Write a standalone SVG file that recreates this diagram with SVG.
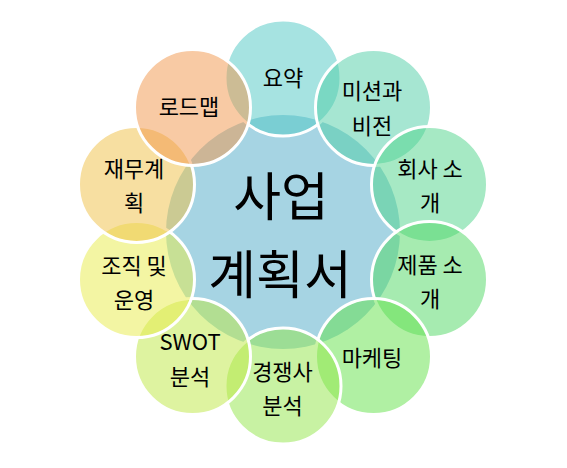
<svg xmlns="http://www.w3.org/2000/svg" width="567" height="468" viewBox="0 0 567 468">
<style>
.o{stroke:#ffffff;stroke-width:3;fill-opacity:0.5}
.t{font-family:"Noto Sans CJK KR","Noto Sans",sans-serif;font-size:22px;fill:#000;text-anchor:middle}
.c{font-family:"Noto Sans CJK KR","Noto Sans",sans-serif;font-size:52px;fill:#000;text-anchor:middle}
</style>
<rect width="567" height="468" fill="#ffffff"/>
<g id="center">
<circle cx="283" cy="232" r="117" fill="#a6d4e3"/>
<text class="c" x="281" y="216">사업</text>
<text class="c" x="280" y="294">계획서</text>
</g>
<g id="n1"><circle class="o" cx="283" cy="78" r="58" fill="#4dc7c3"/><text class="t" x="283" y="86">요약</text></g>
<g id="n2"><circle class="o" cx="373.5" cy="107.4" r="58" fill="#4dcda5"/><text class="t" x="372" y="99">미션과</text><text class="t" x="372" y="134">비전</text></g>
<g id="n3"><circle class="o" cx="429.5" cy="184.4" r="58" fill="#4dd389"/><text class="t" x="430" y="177">회사 소</text><text class="t" x="430" y="211">개</text></g>
<g id="n4"><circle class="o" cx="429.5" cy="279.6" r="58" fill="#4dd761"/><text class="t" x="430" y="273">제품 소</text><text class="t" x="430" y="307">개</text></g>
<g id="n5"><circle class="o" cx="373.5" cy="356.6" r="58" fill="#61e147"/><text class="t" x="372" y="366">마케팅</text></g>
<g id="n6"><circle class="o" cx="283" cy="386" r="58" fill="#91e547"/><text class="t" x="282.5" y="380">경쟁사</text><text class="t" x="282.5" y="414">분석</text></g>
<g id="n7"><circle class="o" cx="192.5" cy="356.6" r="58" fill="#bde741"/><text class="t" x="190" y="350">SWOT</text><text class="t" x="190" y="385">분석</text></g>
<g id="n8"><circle class="o" cx="136.5" cy="279.6" r="58" fill="#e7eb47"/><text class="t" x="134" y="274">조직 및</text><text class="t" x="134" y="308">운영</text></g>
<g id="n9"><circle class="o" cx="136.5" cy="184.4" r="58" fill="#efbf43"/><text class="t" x="134" y="177">재무계</text><text class="t" x="134" y="211">획</text></g>
<g id="n10"><circle class="o" cx="192.5" cy="107.4" r="58" fill="#f19549"/><text class="t" x="189" y="115">로드맵</text></g>
</svg>
